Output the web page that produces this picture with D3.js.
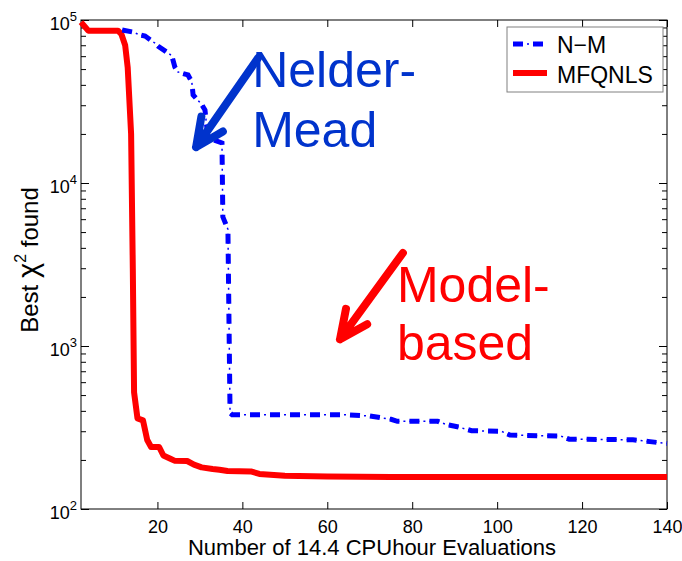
<!DOCTYPE html>
<html>
<head>
<meta charset="utf-8">
<title>Best chi2 found</title>
<script src="https://cdn.jsdelivr.net/npm/d3@7"></script>
<style>
	body,html{margin:0px;background:#fff;}
	svg text{font-family:"Liberation Sans",Arial,Helvetica,sans-serif;}
</style>
</head>
<body>
<svg id="chart" width="682" height="561"></svg>
<script>
// N-M (Nelder-Mead) series
var nmX = [11.7,14.2,15.9,17.1,19.4,20.1,22.5,23.4,24.1,24.8,27.2,28.1,28.4,30.5,31.2,31.9,35.2,35.4,36.6,37.1,37.6,65,70,75,76.5,86,88,91,94,101,103,115,117,132,136,140];
var nmY = [86800,84400,80900,79700,72200,69200,62800,60200,51500,48000,46000,41600,34700,30100,28000,18900,17600,6200,5200,388,378,378,372,355,345,345,330,318,302,300,284,280,268,266,259,252];

// MFQNLS (model-based) series
var mfX = [2,3.7,10.7,11.5,12.4,13,13.8,14.2,14.5,15.3,16.6,17.6,18.5,20.4,21.4,22.8,24,27,28.6,30.4,33,34.6,36.5,42,44,50,60,75,140];
var mfY = [97000,86000,86000,82000,70000,51000,20000,3000,520,360,350,265,240,240,213,205,198,197,187,180,176,174,171,170,164,160,158,157,157];

var xTicks = [20,40,60,80,100,120,140];
var yDecades = [100,1000,10000,100000];
var seriesNames = ["N\u2212M","MFQNLS"];

// annotations (data coordinates)
var annoLines = [["Nelder-","Mead"],["Model-","based"]];
var annoX = [42.3,76.4];
var annoY1 = [38800,1862];
var annoY2 = [16600,820];
var arrowTail = [[43.7,58500],[77.8,3720]];
var arrowTip = [[29.1,16600],[63,1100]];
var annoColor = ["#0033cc","#ff0000"];

var L = 81, R = 667, T = 20, B = 509;
var svg = d3.select('#chart');
var x = d3.scaleLinear().domain([2,140]).range([L,R]);
var y = d3.scaleLog().domain([100,100000]).range([B,T]);

var minor = [];
for(var i = 0; i < yDecades.length-1; i++)
{
	for(var k = 2; k < 10; k++) minor.push(yDecades[i]*k);
}
var allY = yDecades.concat(minor);

// x axes
var xb = svg.append('g').attr('transform','translate(0,'+B+')')
	.call(d3.axisBottom(x).tickValues(xTicks).tickSize(-7).tickPadding(11));
var xt = svg.append('g').attr('transform','translate(0,'+T+')')
	.call(d3.axisTop(x).tickValues(xTicks).tickSize(-7).tickFormat(''));

// y axes
var yl = svg.append('g').attr('transform','translate('+L+',0)')
	.call(d3.axisLeft(y).tickValues(allY).tickSize(-7).tickFormat(''));
var yr = svg.append('g').attr('transform','translate('+R+',0)')
	.call(d3.axisRight(y).tickValues(allY).tickSize(-7).tickFormat(''));

yl.selectAll('.tick line').attr('x2',function(d){ return yDecades.indexOf(d) >= 0 ? 8 : 5; });
yr.selectAll('.tick line').attr('x2',function(d){ return yDecades.indexOf(d) >= 0 ? -8 : -5; });

[xb,xt,yl,yr].forEach(function(g){
	g.select('.domain').remove();
	g.selectAll('.tick line').attr('stroke','#000');
	g.selectAll('text').attr('font-size',18).attr('fill','#000')
		.attr('font-family','"Liberation Sans",Arial,sans-serif');
});

yl.selectAll('.tick').filter(function(d){ return yDecades.indexOf(d) >= 0; })
	.each(function(d){
		var t = d3.select(this).select('text')
			.attr('x',-4).attr('dy',null).attr('y',9).attr('text-anchor','end');
		t.text('10');
		t.append('tspan').attr('font-size',13).attr('dy',-9)
			.text(Math.round(Math.log10(d)));
	});

// frame
svg.append('rect').attr('x',L).attr('y',T).attr('width',R-L).attr('height',B-T)
	.attr('fill','none').attr('stroke','#000').attr('stroke-width',1);

// lines
var line = d3.line().x(function(d){ return x(d[0]); }).y(function(d){ return y(d[1]); });
var nmData = nmX.map(function(v,i){ return [v,nmY[i]]; });
var mfData = mfX.map(function(v,i){ return [v,mfY[i]]; });

svg.append('path').datum(mfData).attr('d',line)
	.attr('fill','none').attr('stroke','#ff0000').attr('stroke-width',6)
	.attr('stroke-linejoin','round');

svg.append('path').datum(nmData).attr('d',line)
	.attr('fill','none').attr('stroke','#0000ff').attr('stroke-width',1.5)
	.attr('stroke-dasharray','10,4,2,4');
svg.append('path').datum(nmData).attr('d',line)
	.attr('fill','none').attr('stroke','#0000ff').attr('stroke-width',5)
	.attr('stroke-dasharray','10,10');

// annotations
for(var a = 0; a < 2; a++)
{
	var tx = x(arrowTail[a][0]), ty = y(arrowTail[a][1]);
	var px = x(arrowTip[a][0]), py = y(arrowTip[a][1]);
	var ang = Math.atan2(ty-py, tx-px);
	var hl = 31, sp = 25*Math.PI/180;
	var b1 = [px+hl*Math.cos(ang-sp), py+hl*Math.sin(ang-sp)];
	var b2 = [px+hl*Math.cos(ang+sp), py+hl*Math.sin(ang+sp)];
	svg.append('path')
		.attr('d','M'+tx+','+ty+'L'+px+','+py+'M'+b1[0]+','+b1[1]+'L'+px+','+py+'L'+b2[0]+','+b2[1])
		.attr('fill','none').attr('stroke',annoColor[a]).attr('stroke-width',8)
		.attr('stroke-linecap','round').attr('stroke-linejoin','round');
	svg.append('text').attr('x',x(annoX[a])).attr('y',y(annoY1[a]))
		.attr('font-size',50).attr('fill',annoColor[a]).text(annoLines[a][0]);
	svg.append('text').attr('x',x(annoX[a])).attr('y',y(annoY2[a]))
		.attr('font-size',50).attr('fill',annoColor[a]).text(annoLines[a][1]);
}

// legend
var lg = svg.append('g');
lg.append('rect').attr('x',507).attr('y',27).attr('width',156).attr('height',65)
	.attr('fill','#fff').attr('stroke','#808080').attr('stroke-width',1);
lg.append('line').attr('x1',513).attr('x2',547).attr('y1',44).attr('y2',44)
	.attr('stroke','#0000ff').attr('stroke-width',1.5).attr('stroke-dasharray','10,4,2,4');
lg.append('line').attr('x1',513).attr('x2',547).attr('y1',44).attr('y2',44)
	.attr('stroke','#0000ff').attr('stroke-width',5).attr('stroke-dasharray','10,10');
lg.append('line').attr('x1',513).attr('x2',547).attr('y1',73).attr('y2',73)
	.attr('stroke','#ff0000').attr('stroke-width',6);
lg.append('text').attr('x',557).attr('y',53).attr('font-size',23).text(seriesNames[0]);
lg.append('text').attr('x',557).attr('y',83).attr('font-size',23).text(seriesNames[1]);

// axis titles
svg.append('text').attr('x',(L+R)/2 - 2).attr('y',555).attr('text-anchor','middle')
	.attr('font-size',22).text('Number of 14.4 CPUhour Evaluations');
var yt = svg.append('text').attr('transform','translate(38,260) rotate(-90)')
	.attr('text-anchor','middle').attr('font-size',24);
yt.append('tspan').text('Best ');
yt.append('tspan').attr('font-size',29).text('\u03c7');
yt.append('tspan').attr('font-size',16).attr('dy',-12).text('2');
yt.append('tspan').attr('dy',12).text(' found');
</script>
</body>
</html>
